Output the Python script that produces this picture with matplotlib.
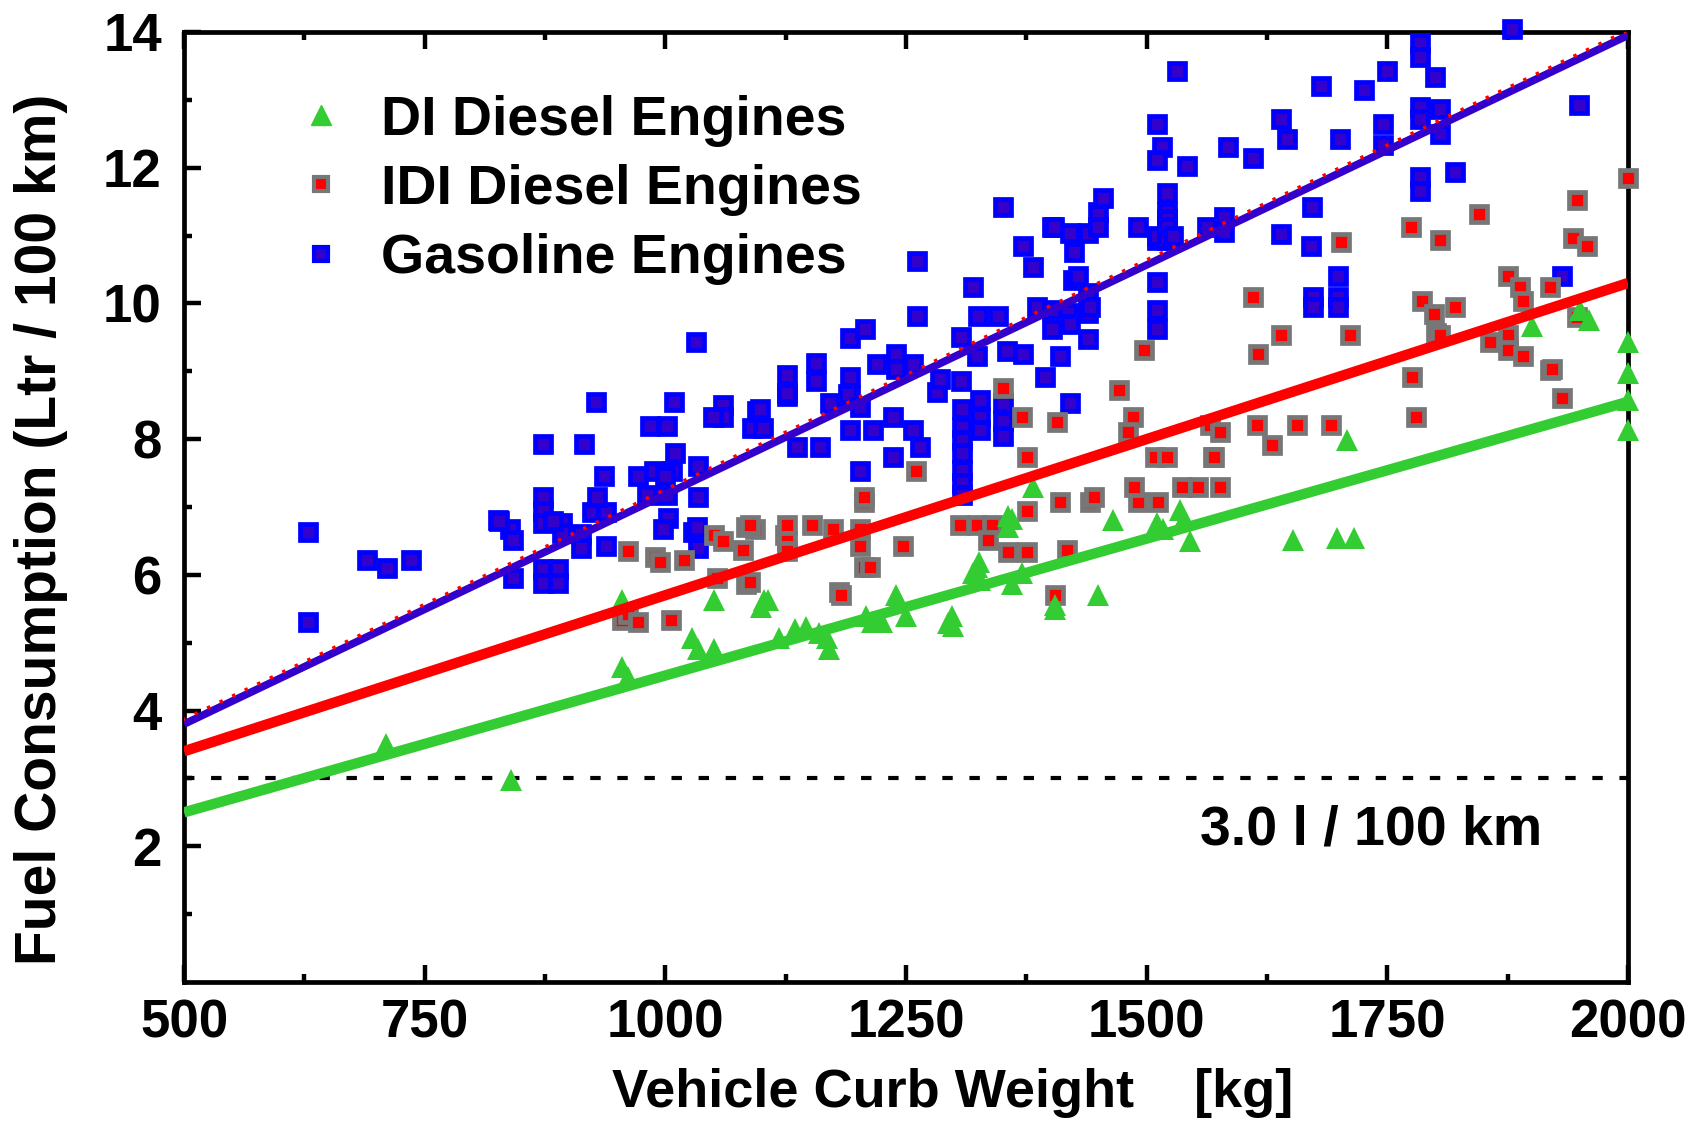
import matplotlib
matplotlib.use("Agg")
import matplotlib.pyplot as plt
import matplotlib.transforms as mtransforms
from matplotlib.lines import Line2D

plt.rcParams['font.family'] = ['Liberation Sans', 'DejaVu Sans']
plt.rcParams['font.weight'] = 'bold'

# Gasoline engines (curb weight kg, l/100 km)
gas_x = [629, 629, 690, 711, 736, 826, 839, 842, 842, 827, 873, 916, 928,
         873, 873, 873, 893, 893, 883, 912, 912, 873, 889, 873, 889,
         924, 938, 929, 936, 938, 972, 988, 1007, 1034, 981, 1002, 1034,
         1003, 1029, 1033, 998, 1034, 1000, 1010, 1009, 1002, 984, 1032,
         1060, 1060, 1050, 1095, 1090, 1101, 1098, 1126, 1126, 1126, 1137, 1161,
         1156, 1156, 1171, 1192, 1207, 1192, 1192, 1192, 1190, 1202, 1202,
         1216, 1220, 1237, 1237, 1240, 1240, 1257, 1257, 1265, 1261, 1261, 1282, 1285,
         1307, 1307, 1308, 1308, 1308, 1308, 1308, 1308, 1308,
         1320, 1324, 1325, 1327, 1327, 1327, 1346, 1351, 1351, 1351, 1351, 1355,
         1372, 1372, 1382, 1386, 1394, 1402, 1402, 1402, 1404, 1410,
         1418, 1420, 1420, 1420, 1423, 1424, 1429, 1439, 1439, 1439, 1439, 1441,
         1449, 1449, 1455, 1491, 1511, 1516, 1511, 1511, 1511, 1511, 1511, 1511,
         1521, 1521, 1521, 1521, 1521, 1527, 1531, 1542, 1563, 1580, 1580, 1584, 1610,
         1640, 1646, 1640, 1672, 1671, 1673, 1673, 1681, 1699, 1699, 1699, 1701,
         1726, 1745, 1745, 1750, 1784, 1784, 1800, 1784, 1805, 1784, 1805, 1784, 1784,
         1820, 1880, 1949, 1931]
gas_y = [6.63, 5.31, 6.22, 6.10, 6.22, 6.81, 6.67, 6.51, 5.95, 6.79, 7.93, 7.93, 8.54,
         7.15, 6.94, 6.77, 6.77, 6.62, 6.79, 6.60, 6.40, 6.08, 6.08, 5.88, 5.88,
         6.92, 6.92, 7.15, 7.45, 6.42, 7.45, 7.53, 7.53, 7.60, 7.18, 7.18, 7.15,
         6.84, 6.63, 6.71, 6.67, 6.40, 7.45, 7.80, 8.54, 8.19, 8.19, 9.43,
         8.50, 8.32, 8.32, 8.41, 8.17, 8.17, 8.44, 8.95, 8.63, 8.68, 7.88, 7.88,
         9.12, 8.85, 8.53, 9.49, 9.62, 8.92, 8.63, 8.14, 8.66, 8.48, 7.53,
         8.14, 9.10, 8.33, 7.74, 9.25, 9.03, 9.10, 8.14, 7.88, 10.62, 9.82, 8.69, 8.88,
         9.51, 8.85, 8.44, 8.18, 7.99, 7.80, 7.55, 7.35, 7.18,
         10.24, 9.22, 9.82, 8.58, 8.33, 8.14, 9.82, 11.42, 8.53, 8.26, 8.04, 9.30,
         10.85, 9.25, 10.53, 9.95, 8.92, 11.12, 9.90, 9.62, 11.12, 9.22,
         9.86, 11.04, 9.70, 8.53, 10.35, 10.75, 10.40, 11.04, 10.16, 9.86, 9.47, 9.94,
         11.34, 11.12, 11.56, 11.12, 12.64, 12.31, 12.12, 10.94, 10.32, 9.90, 9.62, 10.99,
         11.63, 11.34, 11.24, 11.12, 10.94, 10.99, 13.42, 12.02, 11.12, 11.28, 11.05, 12.31, 12.14,
         12.71, 12.42, 11.02, 11.42, 10.84, 10.10, 9.94, 13.21, 10.40, 10.10, 9.94, 12.42,
         13.14, 12.64, 12.34, 13.42, 13.84, 13.63, 13.33, 12.90, 12.86, 12.71, 12.49, 11.86, 11.65,
         11.93, 14.04, 12.92, 10.40]

# IDI diesel engines
idi_x = [955, 961, 972, 961, 989, 994, 1019, 1006, 1051, 1060, 1054, 1084, 1093, 1084,
         1088, 1081, 1088, 1124, 1126, 1126, 1126, 1152, 1174, 1180, 1182, 1202, 1202,
         1206, 1206, 1206, 1213, 1247, 1260, 1306, 1324, 1339, 1335, 1356, 1376, 1376,
         1417, 1405, 1410, 1441, 1445, 1491, 1512, 1487, 1537, 1553, 1576,
         1351, 1371, 1376, 1407, 1471, 1486, 1481, 1497, 1509, 1521, 1569, 1566, 1576, 1570,
         1610, 1616, 1615, 1630, 1640, 1656, 1691, 1711, 1702, 1775, 1805, 1845, 1875,
         1776, 1780, 1786, 1798, 1820, 1801, 1805, 1857, 1875, 1875, 1891, 1888, 1891,
         1919, 1919, 1921, 1931, 1947, 1943, 1957, 1947, 2000]
idi_y = [5.33, 5.42, 5.31, 6.35, 6.27, 6.19, 6.22, 5.34, 6.59, 6.50, 5.95, 6.71, 6.67, 5.87,
         6.74, 6.37, 5.89, 6.59, 6.74, 6.50, 6.35, 6.74, 6.67, 5.74, 5.71, 6.67, 6.43,
         7.07, 7.14, 6.12, 6.11, 6.42, 7.53, 6.74, 6.74, 6.74, 6.52, 6.33, 6.33, 6.94,
         6.37, 5.71, 7.07, 7.07, 7.14, 7.08, 7.08, 7.30, 7.30, 7.30, 7.30,
         8.76, 8.33, 7.74, 8.25, 8.73, 8.32, 8.11, 9.32, 7.74, 7.74, 7.74, 8.21, 8.11, 7.73,
         10.10, 9.25, 8.21, 7.92, 9.54, 8.21, 8.21, 9.54, 10.91, 11.13, 10.94, 11.31, 10.40,
         8.92, 8.32, 10.03, 9.84, 9.95, 9.57, 9.54, 9.43, 9.54, 9.32, 9.22, 10.24, 10.04,
         10.24, 9.02, 9.03, 8.61, 11.53, 10.97, 10.85, 9.80, 11.85]

# DI diesel engines
di_x = [710, 840, 955, 955, 961, 1028, 1034, 1051, 1051, 1099, 1103, 1107, 1118, 1135,
        1146, 1160, 1168, 1170, 1208, 1215, 1225, 1240, 1242, 1250, 1294, 1298, 1299,
        1320, 1324, 1326, 1327, 1356, 1356, 1360, 1371, 1360, 1382, 1405, 1405, 1449,
        1465, 1511, 1517, 1535, 1539, 1545, 1652, 1698, 1715, 1708,
        1900, 1950, 1960, 2000, 2000, 2000, 2000]
di_y = [3.50, 2.97, 5.63, 4.64, 4.50, 5.07, 4.90, 5.63, 4.91, 5.53, 5.63, 5.63, 5.07, 5.20,
        5.23, 5.15, 5.07, 4.90, 5.39, 5.30, 5.31, 5.71, 5.63, 5.40, 5.29, 5.39, 5.24,
        6.03, 6.12, 6.19, 5.93, 6.86, 6.71, 5.87, 6.03, 6.83, 7.30, 5.49, 5.55, 5.71,
        6.81, 6.76, 6.67, 6.96, 6.83, 6.50, 6.52, 6.55, 6.55, 7.99,
        9.66, 9.90, 9.75, 9.43, 8.98, 8.58, 8.14]

# regression lines (end points at 500 and 2000 kg)
fit_x = [500, 2000]
gas_fit = [3.80, 13.95]
idi_fit = [3.40, 10.30]
di_fit = [2.50, 8.55]

target = 3.0

fig = plt.figure(figsize=(16.96, 11.21), dpi=100)
ax = fig.add_axes([0.1085, 0.124, 0.8514, 0.8475])

ax.plot(gas_x, gas_y, 's', ms=11, mfc='#3300cc', mec='#0000ff', mew=3.4,
        ls='none', clip_on=False, zorder=3)
ax.plot(idi_x, idi_y, 's', ms=11, mfc='#ff0000', mec='#777777', mew=3.4,
        ls='none', clip_on=False, zorder=4)
ax.plot(di_x, di_y, '^', ms=16, mfc='#33cc33', mec='#33cc33', mew=0,
        ls='none', clip_on=False, zorder=5)

ax.plot(fit_x, di_fit, color='#33cc33', lw=7.5, solid_capstyle='butt', zorder=6)
ax.plot(fit_x, idi_fit, color='#ff0000', lw=7.5, solid_capstyle='butt', zorder=6)
ax.plot(fit_x, gas_fit, color='#3300cc', lw=5.5, solid_capstyle='butt', zorder=6)
shifted = mtransforms.offset_copy(ax.transData, fig=fig, x=-2, y=4, units='dots')
ax.plot(fit_x, gas_fit, color='#ff0000', lw=2.5, ls=(0, (1, 3)), transform=shifted, zorder=7)

ax.axhline(target, color='black', lw=3, ls=(0, (2.5, 4)), zorder=2)
ax.text(1555, 2.23, '3.0 l / 100 km', fontsize=40, fontweight='bold', va='center', ha='left')

ax.set_xlim(500, 2000)
ax.set_ylim(0, 14)
ax.set_xticks([500, 750, 1000, 1250, 1500, 1750, 2000])
ax.set_xticks([625, 875, 1125, 1375, 1625, 1875], minor=True)
ax.set_yticks([2, 4, 6, 8, 10, 12, 14])
ax.set_yticks([1, 3, 5, 7, 9, 11, 13], minor=True)
ax.tick_params(which='both', direction='in', top=True, width=3.2, labelsize=38, colors='black')
ax.tick_params(which='major', length=12, pad=12)
ax.tick_params(which='minor', length=6)
ax.tick_params(axis='y', pad=16)
for s in ax.spines.values():
    s.set_linewidth(3.4)

ax.set_xlabel('Vehicle Curb Weight    [kg]', fontsize=39, fontweight='bold', va='center')
ax.xaxis.set_label_coords(0.532, -0.117)
ax.set_ylabel('Fuel Consumption (Ltr / 100 km)', fontsize=41, fontweight='bold', va='center')
ax.yaxis.set_label_coords(-0.099, 0.476)

handles = [
    Line2D([], [], marker='^', ms=14, mfc='#33cc33', mec='#33cc33', ls='none'),
    Line2D([], [], marker='s', ms=10, mfc='#ff0000', mec='#777777', mew=3, ls='none'),
    Line2D([], [], marker='s', ms=10, mfc='#3300cc', mec='#0000ff', mew=3, ls='none'),
]
ax.legend(handles, ['DI Diesel Engines', 'IDI Diesel Engines', 'Gasoline Engines'],
          loc='upper left', bbox_to_anchor=(0.0755, 0.934), frameon=False,
          fontsize=40, handlelength=1.0, handletextpad=0.58, labelspacing=0.31,
          borderpad=0, borderaxespad=0)

fig.savefig('out.png', dpi=100)
